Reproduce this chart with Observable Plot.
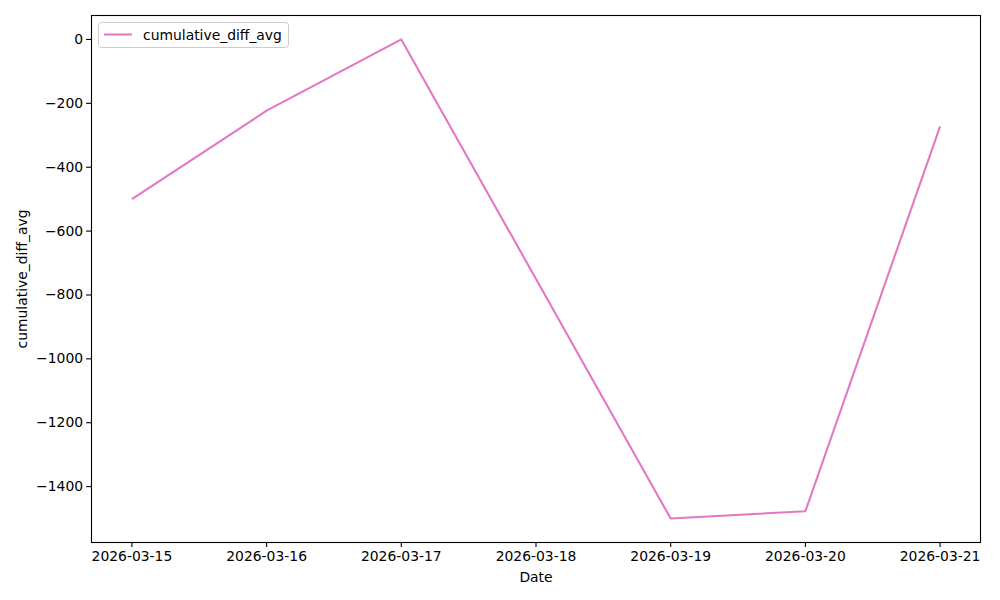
<!DOCTYPE html>
<html>
<head>
<meta charset="utf-8">
<script src="https://cdn.jsdelivr.net/npm/d3@7"></script>
<script src="https://cdn.jsdelivr.net/npm/@observablehq/plot@0.6"></script>
<style>
  html, body { margin: 0; padding: 0; background: #fff; }
  #chart { position: relative; width: 1000px; height: 600px; }
  svg { font-family: "DejaVu Sans", sans-serif; }
</style>
</head>
<body>
<div id="chart"></div>
<script>
// Data
const dates = ["2026-03-15", "2026-03-16", "2026-03-17", "2026-03-19", "2026-03-20", "2026-03-21"];
const values = [-500, -223, 0, -1500, -1477, -272];
const xTickLabels = ["2026-03-15", "2026-03-16", "2026-03-17", "2026-03-18", "2026-03-19", "2026-03-20", "2026-03-21"];
const yTicks = [0, -200, -400, -600, -800, -1000, -1200, -1400];
const seriesName = "cumulative_diff_avg";
const xLabel = "Date";
const yLabel = "cumulative_diff_avg";

const data = dates.map((d, i) => ({date: new Date(d + "T00:00:00Z"), value: values[i]}));
const xTicks = xTickLabels.map(d => new Date(d + "T00:00:00Z"));

const x0 = xTicks[0].getTime(), x1 = xTicks[xTicks.length - 1].getTime();
const padX = (x1 - x0) * 0.05;
const yMin = d3.min(values), yMax = d3.max(values);
const padY = (yMax - yMin) * 0.05;

const fontPx = 13.9;
const color = "#e377c2";

const svg = Plot.plot({
  width: 1000,
  height: 600,
  marginLeft: 91,
  marginRight: 20,
  marginTop: 15,
  marginBottom: 58,
  style: {fontFamily: "DejaVu Sans, sans-serif", fontSize: fontPx + "px", background: "white", color: "black"},
  x: {type: "utc", domain: [new Date(x0 - padX), new Date(x1 + padX)]},
  y: {domain: [yMin - padY, yMax + padY]},
  marks: [
    Plot.line(data, {x: "date", y: "value", stroke: color, strokeWidth: 2.08, strokeLinejoin: "round", strokeLinecap: "butt"}),
    Plot.frame({stroke: "black", strokeWidth: 1.1}),
    Plot.axisX({ticks: xTicks, tickFormat: d3.utcFormat("%Y-%m-%d"), tickSize: 4.9, tickPadding: 4, label: null, fontSize: fontPx, stroke: "black", strokeWidth: 1.1}),
    Plot.axisY({ticks: yTicks, tickFormat: d3.format("d"), tickSize: 4.9, tickPadding: 3.5, label: null, fontSize: fontPx, stroke: "black", strokeWidth: 1.1}),
    Plot.text([xLabel], {frameAnchor: "bottom", dy: 35, text: d => d, fontSize: fontPx, lineAnchor: "middle", fill: "black"}),
    Plot.text([yLabel], {frameAnchor: "left", dx: -69, rotate: -90, text: d => d, fontSize: fontPx, lineAnchor: "middle", textAnchor: "middle", fill: "black"})
  ]
});

// Legend (matplotlib-style box in the upper-left corner)
const s = d3.select(svg);
const lg = s.append("g").attr("class", "legend").attr("text-anchor", "start");
lg.append("rect")
  .attr("x", 98.5).attr("y", 22.5).attr("width", 190).attr("height", 25)
  .attr("rx", 3).attr("ry", 3)
  .attr("fill", "white").attr("fill-opacity", 0.8)
  .attr("stroke", "#cccccc").attr("stroke-width", 1);
lg.append("line")
  .attr("x1", 104).attr("x2", 132).attr("y1", 34.5).attr("y2", 34.5)
  .attr("stroke", color).attr("stroke-width", 2.08);
lg.append("text")
  .attr("x", 143).attr("y", 39.5)
  .attr("text-anchor", "start")
  .attr("font-size", fontPx + "px").attr("fill", "black")
  .text(seriesName);

document.getElementById("chart").appendChild(svg);
</script>
</body>
</html>
